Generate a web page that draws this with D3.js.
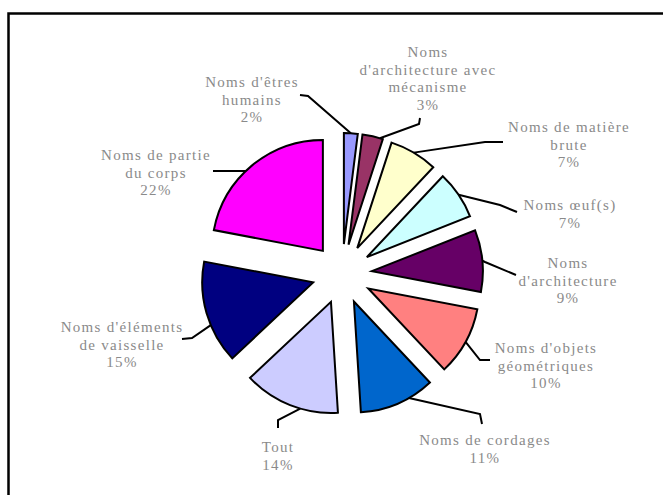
<!DOCTYPE html>
<html>
<head>
<meta charset="utf-8">
<script src="https://cdn.jsdelivr.net/npm/d3@7"></script>
<style>
  html, body { margin: 0; padding: 0; background: #fff; }
  svg { display: block; }
  .lbl { font-family: "Liberation Serif", "Times New Roman", serif; font-size: 15px; fill: #8a8a8a; letter-spacing: 1.3px; }
</style>
</head>
<body>
<svg id="chart" width="663" height="495"></svg>
<script>
// Categories (each entry split into its displayed lines), shares in percent, slice colours
const categories = [
  ["Noms d'êtres", "humains"],
  ["Noms", "d'architecture avec", "mécanisme"],
  ["Noms de matière", "brute"],
  ["Noms œuf(s)"],
  ["Noms", "d'architecture"],
  ["Noms d'objets", "géométriques"],
  ["Noms de cordages"],
  ["Tout"],
  ["Noms d'éléments", "de vaisselle"],
  ["Noms de partie", "du corps"]
];
const values = [2, 3, 7, 7, 9, 10, 11, 14, 15, 22];
const colors = ["#9999FF", "#993366", "#FFFFCC", "#CCFFFF", "#660066",
                "#FF8080", "#0066CC", "#CCCCFF", "#000080", "#FF00FF"];

// Label placement: centre x, first-line centre y, leader elbow points (label side first),
// and where along the slice's outer edge the leader ends (0 = start angle, 1 = end angle)
const labelLayout = [
  { x: 252, y: 82,  leader: [[300, 95], [308, 96]],   at: 0.5 },
  { x: 428, y: 52,  leader: [[420, 118], [419, 124]], at: 0.85 },
  { x: 569, y: 127, leader: [[503, 142], [485, 142]], at: 0.5 },
  { x: 570, y: 205, leader: [[517, 212], [500, 205]], at: 0.5 },
  { x: 568, y: 263, leader: [[516, 275], [485, 262]], at: 0.5 },
  { x: 546, y: 348, leader: [[490, 360], [480, 360]], at: 0.5 },
  { x: 485, y: 440, leader: [[482, 424], [480, 414]], at: 0.34 },
  { x: 278, y: 447, leader: [[278, 428], [278, 420]], at: 0.39 },
  { x: 122, y: 327, leader: [[182, 339], [192, 338]], at: 0.38 },
  { x: 156, y: 155, leader: [[213, 171]],             at: 0.445 }
];

const cx = 342, cy = 274, radius = 111, explode = 30, lineGap = 17.5;

const svg = d3.select("#chart");

// Chart area frame
svg.append("rect")
  .attr("x", 8.5).attr("y", 13.5)
  .attr("width", 700).attr("height", 600)
  .attr("fill", "#fff")
  .attr("stroke", "#000").attr("stroke-width", 2.5);

const pie = d3.pie().sort(null).value(d => d)(values);
const arc = d3.arc().innerRadius(0).outerRadius(radius);

const g = svg.append("g").attr("transform", `translate(${cx},${cy})`);

function offsetOf(d) {
  const mid = (d.startAngle + d.endAngle) / 2;
  return [explode * Math.sin(mid), -explode * Math.cos(mid)];
}

// Exploded slices
g.selectAll("path.slice")
  .data(pie)
  .join("path")
  .attr("class", "slice")
  .attr("transform", d => { const o = offsetOf(d); return `translate(${o[0]},${o[1]})`; })
  .attr("d", arc)
  .attr("fill", (d, i) => colors[i])
  .attr("stroke", "#000")
  .attr("stroke-width", 2)
  .attr("stroke-linejoin", "miter");

// Leader lines: label side points, then a point on the slice's outer edge
const line = d3.line();
pie.forEach((d, i) => {
  const L = labelLayout[i];
  const a = d.startAngle + L.at * (d.endAngle - d.startAngle);
  const o = offsetOf(d);
  const end = [cx + o[0] + radius * Math.sin(a), cy + o[1] - radius * Math.cos(a)];
  svg.append("path")
    .attr("d", line(L.leader.concat([end])))
    .attr("fill", "none")
    .attr("stroke", "#000")
    .attr("stroke-width", 2);
});

// Category labels with percentage
pie.forEach((d, i) => {
  const L = labelLayout[i];
  const lines = categories[i].concat([values[i] + "%"]);
  const t = svg.append("text")
    .attr("class", "lbl")
    .attr("text-anchor", "middle");
  lines.forEach((s, k) => {
    t.append("tspan")
      .attr("x", L.x)
      .attr("y", L.y + k * lineGap + 5)
      .text(s);
  });
});
</script>
</body>
</html>
